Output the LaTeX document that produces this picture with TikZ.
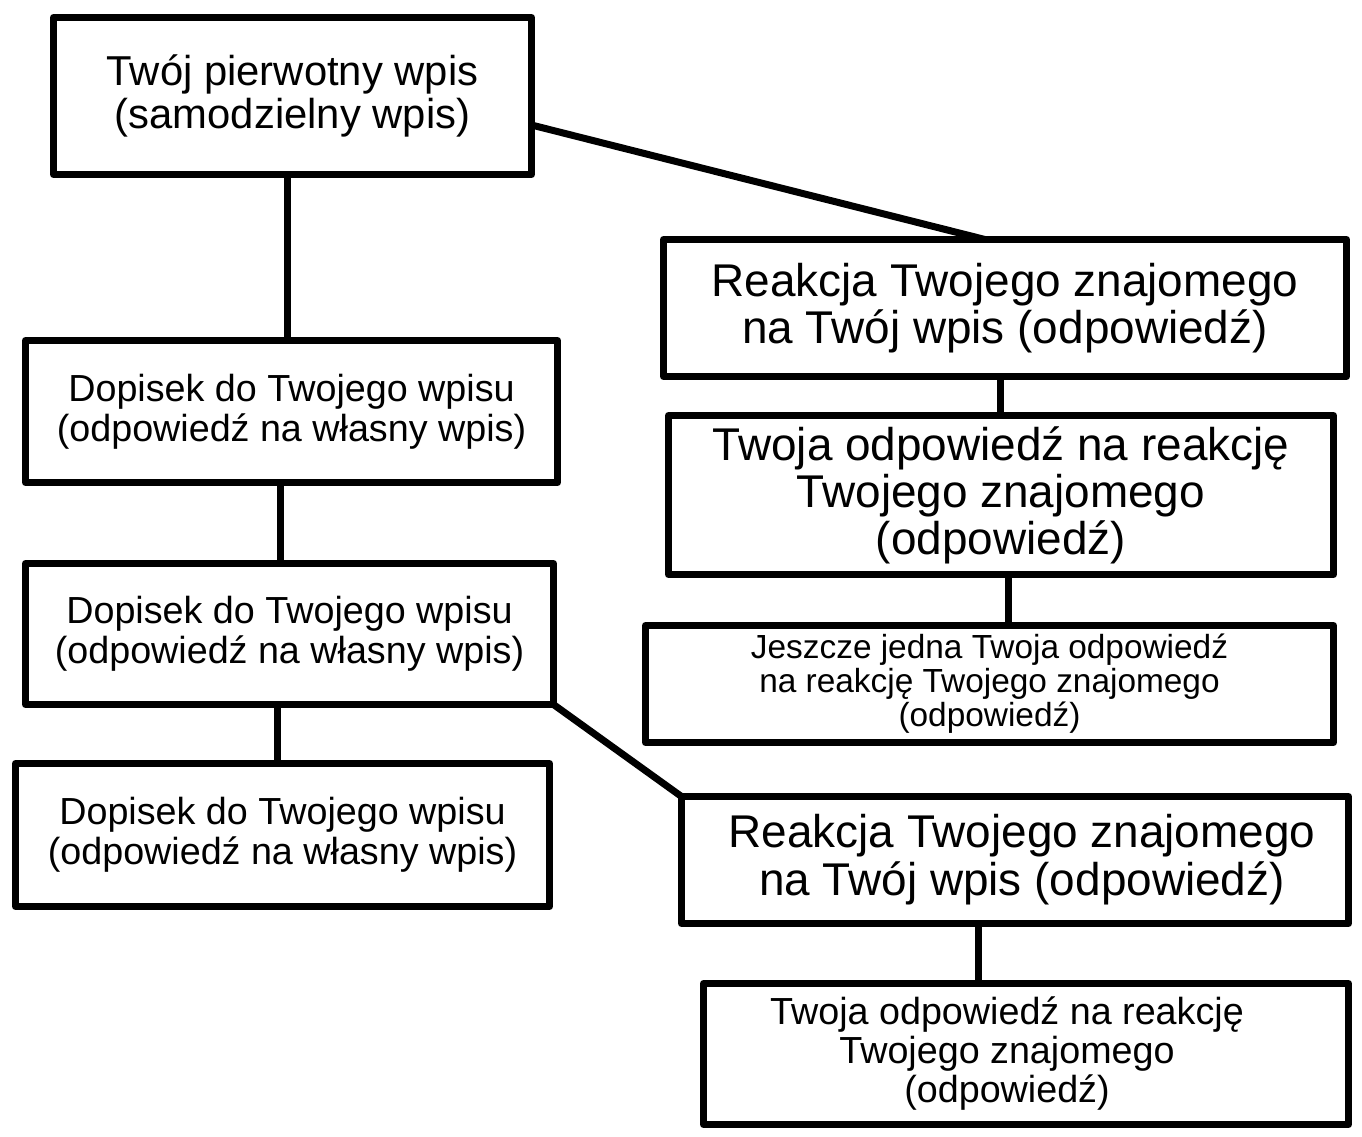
\documentclass[tikz,border=0pt]{standalone}
\usepackage{fontspec}
\setmainfont{Liberation Sans}
\begin{document}
\begin{tikzpicture}[x=1pt,y=-1pt,
  box/.style={draw=black,line width=7pt,line join=round,fill=white,inner sep=0pt,outer sep=0pt,align=center,minimum width=#1},
  conn/.style={line width=7pt,line cap=butt},
  fa/.style={font=\fontsize{41.8}{43}\selectfont},
  fb/.style={font=\fontsize{37.7}{40}\selectfont},
  fc/.style={font=\fontsize{45.9}{47}\selectfont},
  fd/.style={font=\fontsize{33.4}{34}\selectfont},
  fe/.style={font=\fontsize{37.7}{39}\selectfont}]
\useasboundingbox (0,0) rectangle (1362,1136);
\node[box=478pt,minimum height=157pt,fa] (top) at (292.5,96) {Twój pierwotny wpis\\(samodzielny wpis)};
\node[box=532pt,minimum height=142pt,fb] (l1) at (291.5,411.5) {Dopisek do Twojego wpisu\\(odpowiedź na własny wpis)};
\node[box=528pt,minimum height=141pt,fb] (l2) at (289.5,634) {Dopisek do Twojego wpisu\\(odpowiedź na własny wpis)};
\node[box=534pt,minimum height=143pt,fb] (l3) at (282.5,835) {Dopisek do Twojego wpisu\\(odpowiedź na własny wpis)};
\node[box=683pt,minimum height=137pt,fc] (r1) at (1005,308) {Reakcja Twojego znajomego\\na Twój wpis (odpowiedź)};
\node[box=665pt,minimum height=159pt,fc] (r2) at (1001,495) {Twoja odpowiedź na reakcję\\Twojego znajomego\\(odpowiedź)};
\node[box=688pt,minimum height=117pt,fd] (r3) at (989.5,684) {Jeszcze jedna Twoja odpowiedź\\na reakcję Twojego znajomego\\(odpowiedź)};
\node[box=667pt,minimum height=127pt,font=\fontsize{45.9}{48}\selectfont] (r4) at (1015,860) {\hspace*{14pt}Reakcja Twojego znajomego\\\hspace*{14pt}na Twój wpis (odpowiedź)};
\node[box=645pt,minimum height=141pt] (r5) at (1026,1054) {};
\node[fe,align=center,inner sep=0pt] (r5t) at ([xshift=-19pt]r5.center) {Twoja odpowiedź na reakcję\\Twojego znajomego\\(odpowiedź)};
\draw[conn] ([xshift=-5.5pt]top.south) -- ([xshift=-5.5pt]top.south |- l1.north);
\draw[conn] ([yshift=-29pt]top.east) -- ([xshift=-20pt]r1.north);
\draw[conn] ([xshift=-11.5pt]l1.south) -- ([xshift=-11.5pt]l1.south |- l2.north);
\draw[conn] ([xshift=-12.5pt]l2.south) -- ([xshift=-12.5pt]l2.south |- l3.north);
\draw[conn] (l2.south east) -- (r4.north west);
\draw[conn] ([xshift=-5pt]r1.south) -- ([xshift=-5pt]r1.south |- r2.north);
\draw[conn] ([xshift=7pt]r2.south) -- ([xshift=7pt]r2.south |- r3.north);
\draw[conn] ([xshift=-37pt]r4.south) -- ([xshift=-37pt]r4.south |- r5.north);
\end{tikzpicture}
\end{document}
